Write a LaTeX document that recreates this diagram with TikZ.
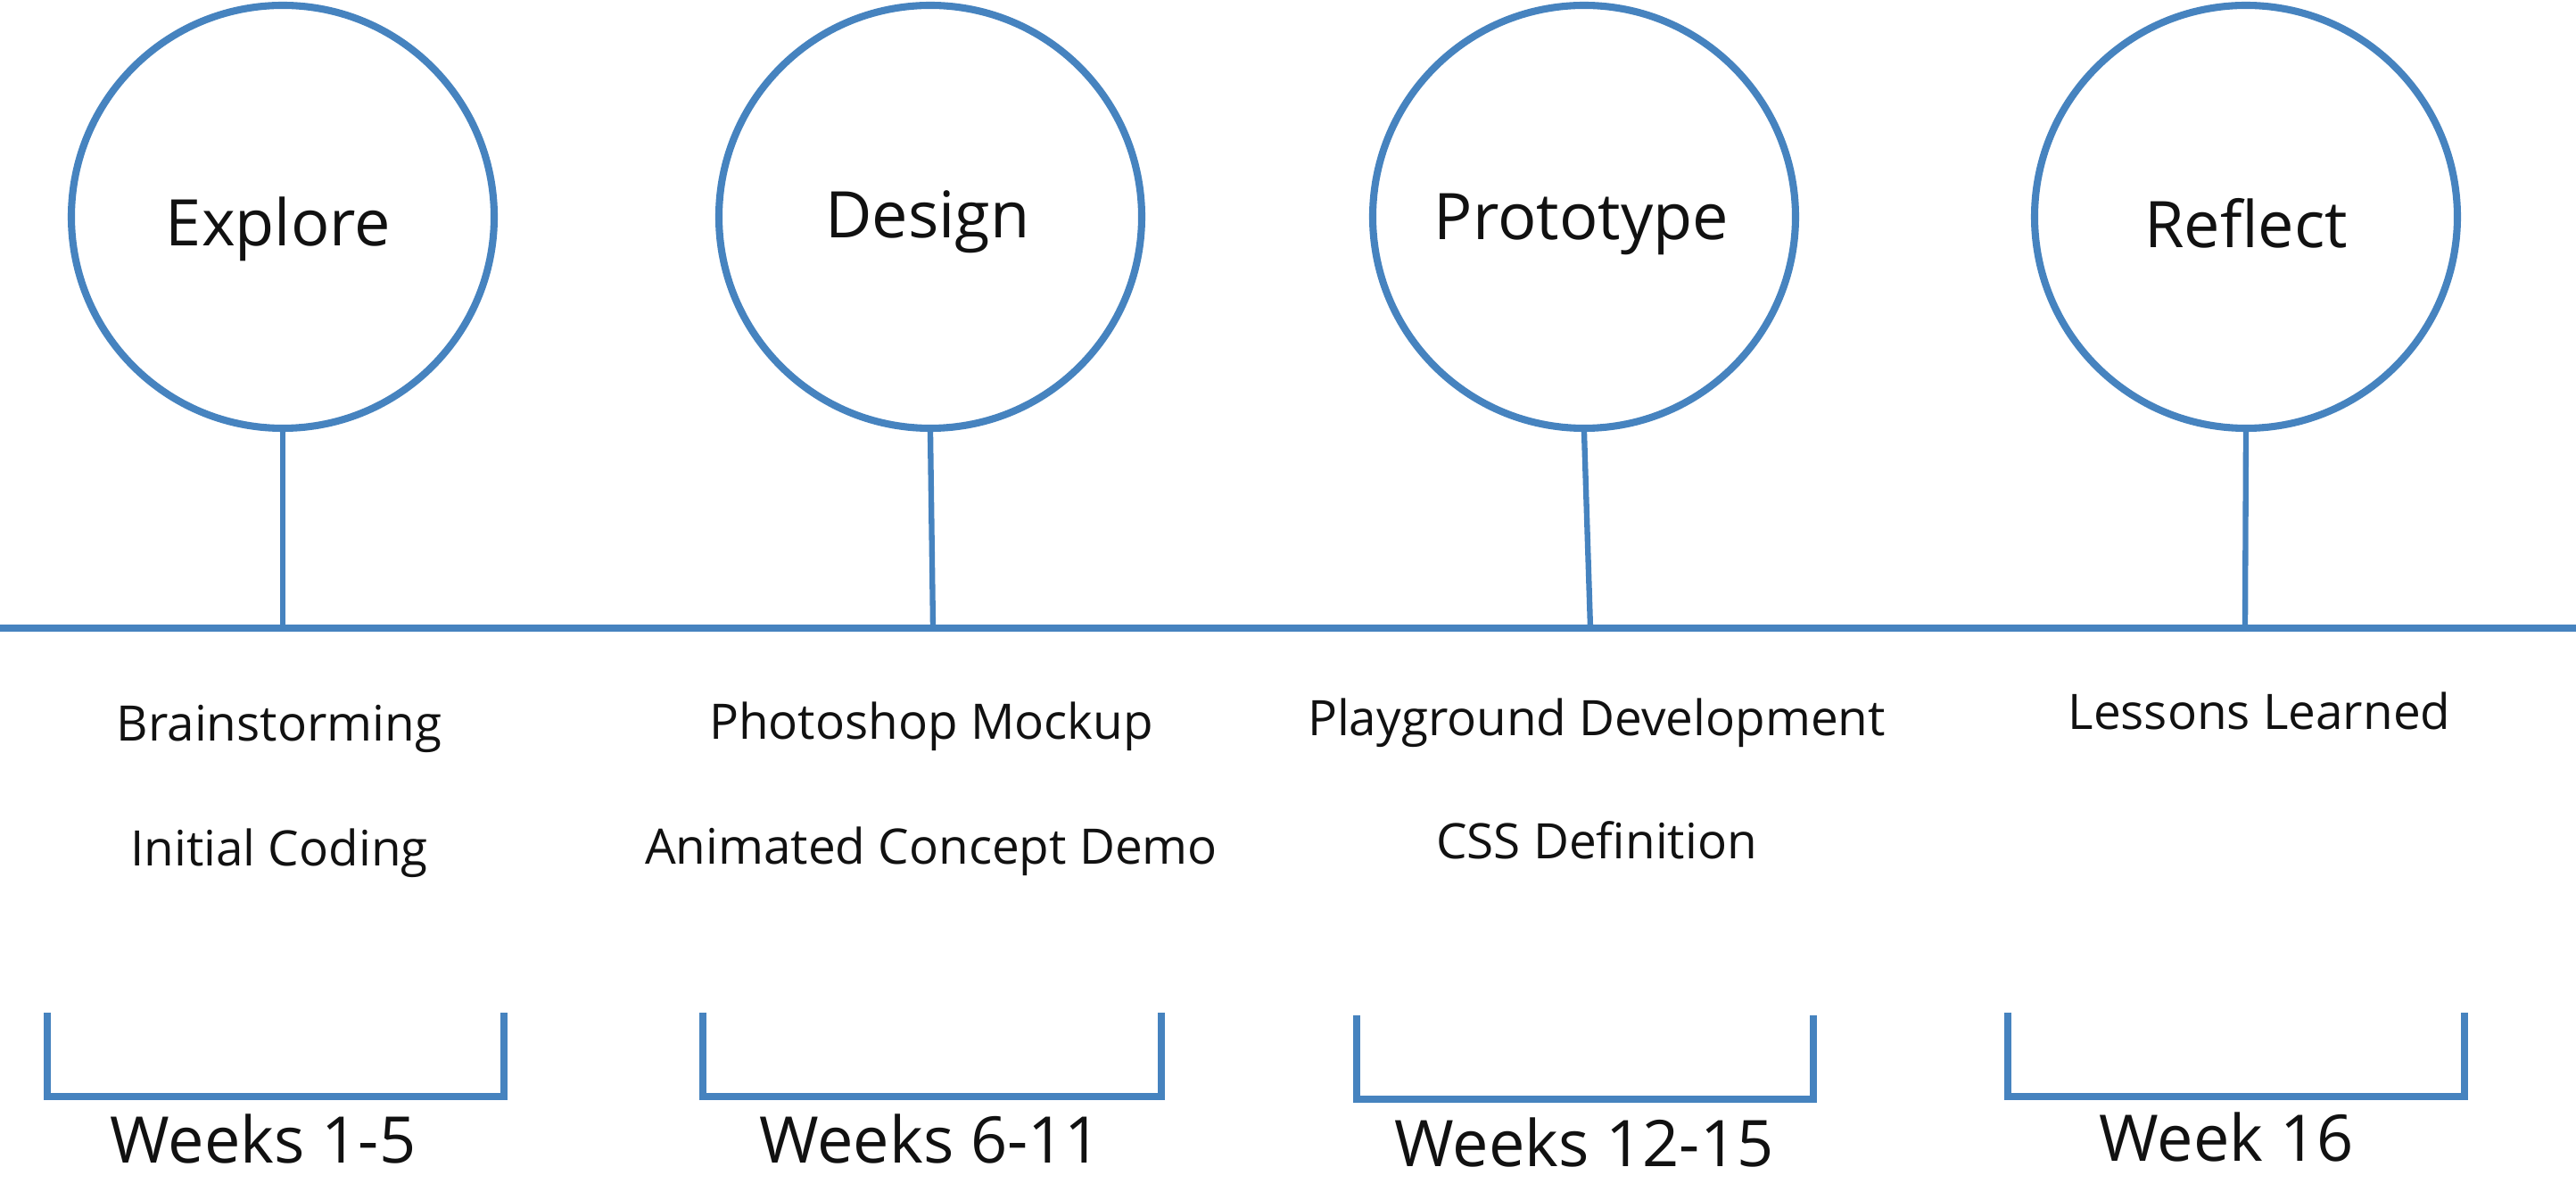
\documentclass[tikz,border=0pt]{standalone}
\usepackage{fontspec}
\setmainfont{Open Sans}
\usetikzlibrary{calc,positioning}
\definecolor{TimelineBlue}{HTML}{4683BF}
\definecolor{Ink}{HTML}{111111}

\begin{document}
\begin{tikzpicture}[
    phase/.style={circle, draw=TimelineBlue, line width=2.3pt, minimum size=4.74cm,
      inner sep=0pt},
    phasename/.style={anchor=base, text=Ink, font=\fontsize{20.5}{24}\selectfont},
    activity/.style={anchor=base, text=Ink, font=\fontsize{15.6}{18}\selectfont},
    period/.style={anchor=base, text=Ink, font=\fontsize{20.5}{24}\selectfont},
    stem/.style={TimelineBlue, line width=1.8pt},
    bracket/.style={TimelineBlue, line width=2.3pt}]
  \useasboundingbox (0,0) rectangle (28.88,13.36);

  % The main axis.
  \coordinate (axisL) at (0,6.32);
  \coordinate (axisR) at (28.88,6.32);
  \draw[TimelineBlue, line width=2pt] (axisL) -- (axisR);

  % The four phases and their stems.
  \node[phase] (explore) at (3.17,10.93) {};
  \node[phase] (design) at (10.43,10.93) {};
  \node[phase] (prototype) at (17.76,10.93) {};
  \node[phase] (reflect) at (25.18,10.93) {};
  \node[phasename] at ($(explore.center)+(-0.05,-0.33)$) {Explore};
  \node[phasename] at ($(design.center)+(-0.03,-0.24)$) {Design};
  \node[phasename] at ($(prototype.center)+(-0.03,-0.26)$) {Prototype};
  \node[phasename] at ($(reflect.center)+(0,-0.35)$) {Reflect};

  \coordinate (t1) at (3.17,6.32);
  \coordinate (t2) at (10.46,6.32);
  \coordinate (t3) at (17.83,6.32);
  \coordinate (t4) at (25.17,6.32);
  \draw[stem] (explore.south) -- (t1);
  \draw[stem] (design.south) -- (t2);
  \draw[stem] (prototype.south) -- (t3);
  \draw[stem] (reflect.south) -- (t4);

  % What happens in each phase.
  \node[activity] (brain) at (3.13,5.05) {Brainstorming};
  \node[activity] (coding) at (3.13,3.65) {Initial Coding};
  \node[activity] (mockup) at (10.44,5.07) {Photoshop Mockup};
  \node[activity] (demo) at (10.44,3.67) {Animated Concept Demo};
  \node[activity] (playground) at (17.90,5.11) {Playground Development};
  \node[activity] (css) at (17.90,3.73) {CSS Definition};
  \node[activity] (lessons) at (25.33,5.18) {Lessons Learned};

  % Week spans.
  \draw[bracket] (0.53,2.01) |- (5.65,1.07) -- (5.65,2.01);
  \draw[bracket] (7.88,2.01) |- (13.02,1.07) -- (13.02,2.01);
  \draw[bracket] (15.21,1.98) |- (20.33,1.04) -- (20.33,1.98);
  \draw[bracket] (22.51,2.01) |- (27.63,1.07) -- (27.63,2.01);

  \node[period] (w1) at (2.95,0.32) {Weeks 1-5};
  \node[period] (w2) at (10.43,0.32) {Weeks 6-11};
  \node[period] (w3) at (17.76,0.28) {Weeks 12-15};
  \node[period] (w4) at (24.96,0.34) {Week 16};
\end{tikzpicture}
\end{document}
